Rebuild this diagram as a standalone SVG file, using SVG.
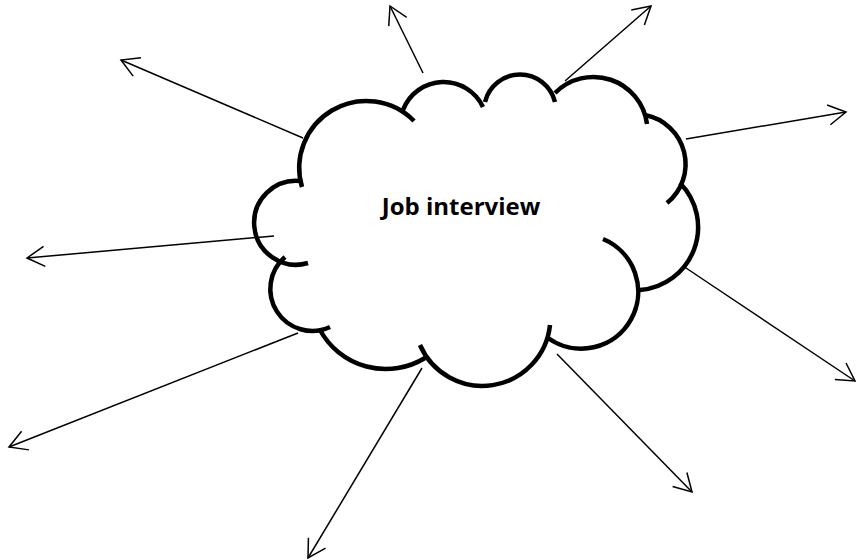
<svg xmlns="http://www.w3.org/2000/svg" width="856" height="560" viewBox="0 0 856 560">
<style>
.lobe{fill:none;stroke:#000;stroke-width:4.5;stroke-linecap:butt}
.conn{fill:none;stroke:#000;stroke-width:1.5;marker-end:url(#ah)}
.lbl{font-family:"Open Sans","Liberation Sans",sans-serif;font-weight:bold;font-size:24px;fill:#000}
</style>
<defs>
<marker id="ah" viewBox="-20 -12 22 24" refX="0" refY="0" markerWidth="22" markerHeight="24" markerUnits="userSpaceOnUse" orient="auto">
<path d="M-17.5,-10 L0,0 L-17.5,10" fill="none" stroke="#000" stroke-width="1.5"/>
</marker>
</defs>
<rect width="856" height="560" fill="#fff"/>
<g id="connectors">
<line class="conn" x1="303" y1="138" x2="121" y2="60"/>
<line class="conn" x1="423" y1="73" x2="390" y2="6"/>
<line class="conn" x1="565" y1="81" x2="651" y2="6"/>
<line class="conn" x1="686" y1="139" x2="846" y2="112"/>
<line class="conn" x1="683" y1="266" x2="855" y2="381"/>
<line class="conn" x1="557" y1="354" x2="692" y2="492"/>
<line class="conn" x1="422" y1="368" x2="308" y2="558"/>
<line class="conn" x1="298" y1="333" x2="9" y2="447"/>
<line class="conn" x1="274" y1="236" x2="27" y2="258"/>
</g>
<g id="job-interview">
<path class="lobe" d="M302,187 A67,67 0 0 1 414,121"/>
<path class="lobe" d="M403,110 A43.5,43.5 0 0 1 483,107"/>
<path class="lobe" d="M485,102 A36,36 0 0 1 555,102"/>
<path class="lobe" d="M555,93 A54,54 0 0 1 647,124"/>
<path class="lobe" d="M645,115 A50,50 0 0 1 667,203"/>
<path class="lobe" d="M680,183 A63,63 0 0 1 640,290"/>
<path class="lobe" d="M603,239 A57,57 0 1 1 548,338"/>
<path class="lobe" d="M550,325 A68,68 0 0 1 420,345"/>
<path class="lobe" d="M425,358 A75,75 0 0 1 320,330"/>
<path class="lobe" d="M330,327 A42,42 0 0 1 285,257"/>
<path class="lobe" d="M308,263 A42,42 0 1 1 301,181"/>
<text class="lbl" x="461" y="215" text-anchor="middle">Job interview</text>
</g>
</svg>
